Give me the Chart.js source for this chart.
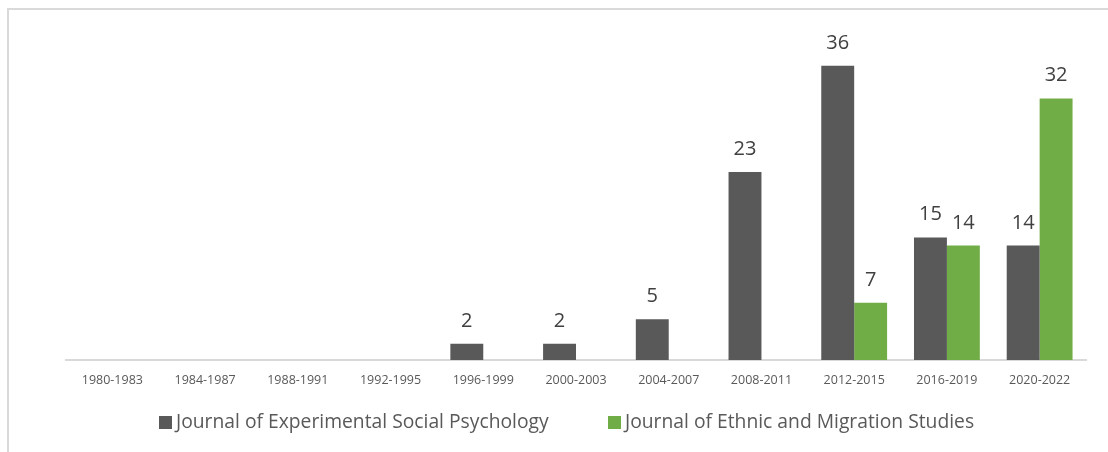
<!DOCTYPE html>
<html>
<head>
<meta charset="utf-8">
<script src="https://cdn.jsdelivr.net/npm/chart.js@4.4.1/dist/chart.umd.min.js"></script>
<style>
  html, body { margin: 0; padding: 0; background: #fff; }
  #wrap { position: relative; width: 1108px; height: 452px; overflow: hidden; }
  #frame { position: absolute; left: 7px; top: 8px; width: 1200px; height: 500px;
           border-left: 2px solid #d9d9d9; border-top: 2px solid #d9d9d9; }
  #myChart { position: absolute; left: 0; top: 0; }
  .leg { position: absolute; top: 408px; font-family: "Open Sans", sans-serif; font-size: 19.3px;
         color: #595959; white-space: nowrap; line-height: 26px; }
  .leg i { display: inline-block; width: 13px; height: 13px; margin-right: 4px; vertical-align: -1px; }
</style>
</head>
<body>
<div id="wrap">
  <div id="frame"></div>
  <canvas id="myChart" width="1108" height="452"></canvas>
  <div id="legend"></div>
</div>
<script>
// data
var periods = ["1980-1983", "1984-1987", "1988-1991", "1992-1995", "1996-1999", "2000-2003",
               "2004-2007", "2008-2011", "2012-2015", "2016-2019", "2020-2022"];
var jesp = [0, 0, 0, 0, 2, 2, 5, 23, 36, 15, 14];
var jems = [0, 0, 0, 0, 0, 0, 0, 0, 7, 14, 32];
var seriesNames = ["Journal of Experimental Social Psychology", "Journal of Ethnic and Migration Studies"];
var seriesColors = ["#595959", "#70ad47"];

// value labels above the bars (skip zeros)
var barLabels = {
  id: "barLabels",
  afterDatasetsDraw: function (chart) {
    var ctx = chart.ctx;
    ctx.save();
    ctx.font = '20px "Open Sans", sans-serif';
    ctx.fillStyle = "#404040";
    ctx.textAlign = "center";
    ctx.textBaseline = "alphabetic";
    chart.data.datasets.forEach(function (ds, i) {
      chart.getDatasetMeta(i).data.forEach(function (bar, j) {
        if (!ds.data[j]) return;
        ctx.fillText(ds.data[j], bar.x, bar.y - 17);
      });
    });
    ctx.restore();
  },
};

var ctx = document.getElementById("myChart").getContext("2d");
var chart = new Chart(ctx, {
  type: "bar",
  data: {
    labels: periods,
    datasets: [
      { label: seriesNames[0], data: jesp, backgroundColor: seriesColors[0] },
      { label: seriesNames[1], data: jems, backgroundColor: seriesColors[1] },
    ],
  },
  options: {
    responsive: false,
    animation: false,
    events: [],
    layout: { padding: { left: 66, right: 22, top: 33, bottom: 62 } },
    datasets: { bar: { categoryPercentage: 0.71, barPercentage: 1.0, borderWidth: 0 } },
    plugins: { legend: { display: false }, tooltip: { enabled: false } },
    scales: {
      x: {
        grid: { display: false, drawTicks: false },
        border: { display: true, color: "#d9d9d9", width: 2 },
        ticks: { color: "#595959", padding: 13, maxRotation: 0,
                 font: { family: "Open Sans", size: 12.5 } },
        afterFit: function (scale) { scale.height = 30; },
      },
      y: { display: false, min: 0, max: 40 },
    },
  },
  plugins: [barLabels],
});

// legend built from the chart's datasets
var legendLeft = [159, 608];
var legend = document.getElementById("legend");
chart.data.datasets.forEach(function (ds, i) {
  var item = document.createElement("div");
  item.className = "leg";
  item.style.left = legendLeft[i] + "px";
  item.innerHTML = '<i style="background:' + ds.backgroundColor + '"></i>' + ds.label;
  legend.appendChild(item);
});
</script>
</body>
</html>
